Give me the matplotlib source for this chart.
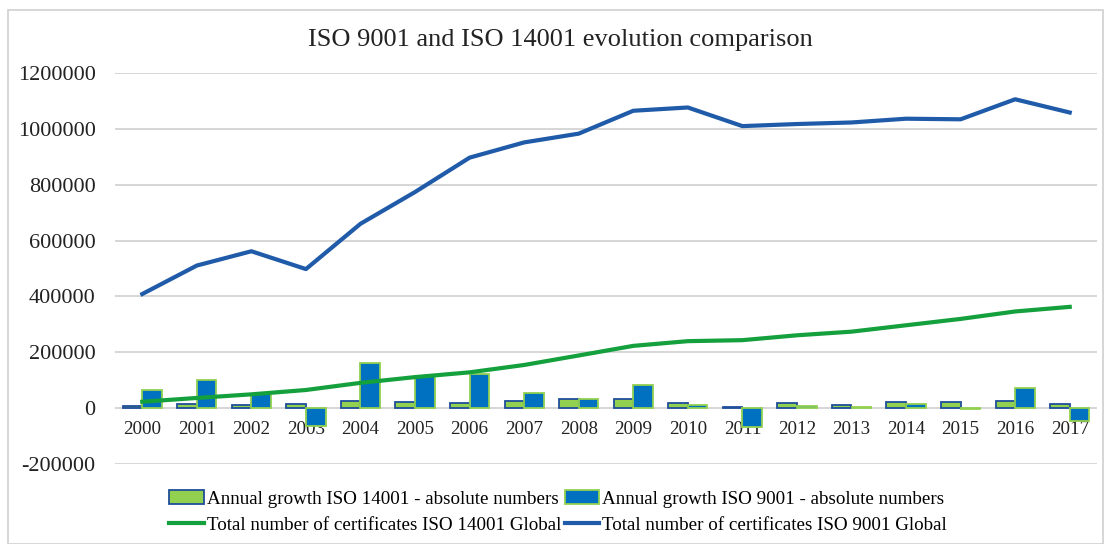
import matplotlib
matplotlib.use("Agg")
import matplotlib.pyplot as plt
import numpy as np
from matplotlib.patches import Rectangle

years = [str(y) for y in range(2000, 2018)]
growth_14001 = [8791, 13567, 12976, 15556, 25558, 20608, 17049, 26361, 34002,
                34400, 16906, 3513, 17459, 13009, 22875, 22760, 26651, 16463]
growth_9001 = [64988, 101985, 51131, -63828, 162213, 113735, 123062, 54557, 31346,
               81953, 11740, -66680, 7434, 5598, 13444, -2141, 71757, -47433]
total_14001 = [22897, 36464, 49440, 64996, 90554, 111162, 128211, 154572, 188574,
               222974, 239880, 243393, 260852, 273861, 296736, 319496, 346147, 362610]
total_9001 = [408631, 510616, 561747, 497919, 660132, 773867, 896929, 951486, 982832,
              1064785, 1076525, 1009845, 1017279, 1022877, 1036321, 1034180, 1105937, 1058504]
yticks = [-200000, 0, 200000, 400000, 600000, 800000, 1000000, 1200000]

title = "ISO 9001 and ISO 14001 evolution comparison"
lab_g14 = "Annual growth ISO 14001 - absolute numbers"
lab_g9 = "Annual growth ISO 9001 - absolute numbers"
lab_t14 = "Total number of certificates ISO 14001 Global"
lab_t9 = "Total number of certificates ISO 9001 Global"

plt.rcParams['font.family'] = ['Liberation Serif', 'DejaVu Serif']

fig = plt.figure(figsize=(11.05, 5.44), dpi=100)
ax = fig.add_axes([115/1105, 1-464/544, (1097-115)/1105, (464-73)/544])

x = np.arange(len(years))
w = 0.36
light_green = "#92D050"
mid_blue = "#0070C0"
dark_blue_edge = "#1F4E9A"
b1 = ax.bar(x - w/2, growth_14001, w, color=light_green, edgecolor=dark_blue_edge,
            linewidth=1.3, label=lab_g14, zorder=2)
b2 = ax.bar(x + w/2, growth_9001, w, color=mid_blue, edgecolor=light_green,
            linewidth=1.3, label=lab_g9, zorder=2)
l1, = ax.plot(x, total_14001, color="#14A03C", lw=3, label=lab_t14, zorder=3)
l2, = ax.plot(x, total_9001, color="#1F5BA8", lw=3, label=lab_t9, zorder=3)

ax.spines['bottom'].set_position(('data', 0))
for s in ax.spines.values():
    s.set_visible(False)
ax.set_xlim(-0.5, len(years) - 0.5)
ax.set_ylim(-200000, 1200000)
ax.set_yticks(yticks)
ax.set_yticklabels([str(v) for v in yticks])
ax.set_xticks(x)
ax.set_xticklabels(years)
ax.tick_params(axis='both', length=0, labelcolor="#222222")
ax.tick_params(axis='x', pad=9, labelsize=13.7)
ax.tick_params(axis='y', pad=14, labelsize=16)
ax.grid(axis='y', color="#D0D0D0", lw=1.2, zorder=0)
ax.set_axisbelow(True)

fig.text(560/1105, 1-40/544, title, ha='center', va='center', fontsize=19, color="#222222")

fig.legend(handles=[b1, l1, b2, l2], labels=[lab_g14, lab_t14, lab_g9, lab_t9],
           loc='center', bbox_to_anchor=(558/1105, 1-512/544), ncol=2, frameon=False,
           fontsize=13.7, handlelength=1.8, handletextpad=0.15, columnspacing=0.2,
           labelspacing=0.45, borderaxespad=0)

fig.patches.append(Rectangle((8/1105, 0), 1 - 8/1105 - 2/1105, 1 - 10/544,
                             transform=fig.transFigure, fill=False,
                             edgecolor="#D0D0D0", lw=1.2))

fig.savefig("out.png", dpi=100)
